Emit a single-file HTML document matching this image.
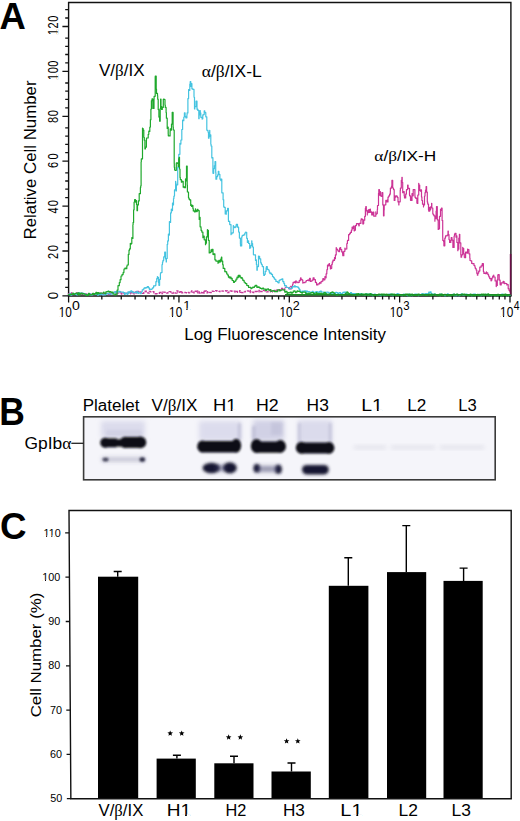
<!DOCTYPE html>
<html><head><meta charset="utf-8"><title>Figure</title>
<style>html,body{margin:0;padding:0;background:#fff;}svg{display:block;}text{font-family:"Liberation Sans",sans-serif;}</style>
</head><body>
<svg width="520" height="821" viewBox="0 0 520 821" font-family="'Liberation Sans', sans-serif" fill="#000">
<text transform="translate(-0.51,28.50) scale(0.9711,1)" font-size="37.53" font-weight="bold">A</text>
<path d="M68.6,295.9 V2.5 H510.9 V295.9" fill="none" stroke="#111" stroke-width="1.4"/>
<path d="M67.89999999999999,295.9 H511.59999999999997" stroke="#111" stroke-width="1.5"/>
<path d="M68.5,293.1H68.5V293.7H69.5V293.5H70.5V292.7H71.7V294.7H73.3V294.3H74.4V293.8H75.5V292.9H76.5V293.0H78.1V294.5H79.7V294.4H80.7V293.2H82.1V294.3H83.7V294.6H84.7V294.0H86.1V293.7H87.2V293.6H88.1V294.7H89.7V293.8H90.9V294.7H92.2V294.6H93.8V293.7H95.0V293.9H96.3V292.9H97.4V294.5H98.4V292.6H99.8V293.2H101.1V293.6H102.3V294.9H103.3V293.5H104.4V294.0H105.5V293.4H107.0V293.3H108.4V294.7H109.3V292.6H110.0V293.7H110.4V294.3H111.8V292.8H113.0V292.6H114.3V292.1H115.7V293.9H117.4V293.3H118.0V292.7H119.0V291.7H120.2V294.1H121.7V293.0H123.3V293.7H124.9V293.2H125.0V293.7H125.9V293.5H126.9V293.2H128.6V292.9H129.5V292.2H130.6V293.8H131.8V292.5H132.7V294.1H134.0V292.1H134.9V291.6H136.0V293.0H137.0V291.4H138.3V291.8H140.0V291.3H140.0V292.2H141.3V292.9H142.5V293.4H143.8V291.7H145.1V291.2H146.3V291.8H147.9V293.2H149.2V291.3H150.3V291.8H151.4V291.8H153.0V291.7H153.9V293.6H155.3V293.8H156.5V293.6H157.9V293.3H159.4V292.7H160.0V292.7H160.4V292.0H162.0V293.6H163.6V292.1H165.0V293.2H166.4V293.1H167.8V292.7H169.2V291.7H170.8V293.3H171.8V293.2H173.5V292.4H174.4V292.9H175.4V293.1H176.9V290.8H177.9V292.1H179.2V292.3H180.0V291.7H180.9V291.0H181.8V292.8H182.7V292.7H183.7V292.5H185.2V292.7H186.6V292.8H187.6V292.3H188.8V292.9H190.3V291.9H191.6V290.9H192.6V292.2H193.9V292.9H195.3V291.2H196.4V292.8H197.8V291.0H199.3V293.0H200.0V292.2H200.3V292.3H201.5V292.8H202.7V291.4H204.0V293.1H204.9V291.0H206.3V292.8H207.6V291.7H209.2V292.4H210.2V292.6H211.2V291.2H212.8V291.4H214.3V290.7H215.9V290.6H217.0V291.3H218.1V291.4H219.7V291.7H220.0V291.2H220.7V290.8H222.0V291.2H223.5V291.2H224.4V290.7H226.0V291.0H227.5V292.6H228.9V291.8H230.3V291.0H231.9V291.4H233.5V291.1H235.1V292.3H236.5V291.5H237.5V292.3H238.7V292.1H239.7V290.7H240.0V291.7H240.8V292.4H241.8V292.6H243.0V291.8H244.2V291.9H245.2V291.3H246.8V290.8H248.2V291.1H249.4V290.3H250.3V292.5H251.9V292.1H253.4V292.5H254.4V291.5H255.7V291.5H257.4V291.9H259.0V290.3H260.0V291.2H260.5V291.6H262.0V291.4H263.5V290.6H265.1V290.8H266.5V291.9H268.0V290.5H269.1V290.5H270.5V292.0H272.1V290.6H273.3V291.5H274.4V290.5H275.0V290.7H275.4V289.9H276.7V290.8H278.1V289.7H279.7V289.9H280.8V288.3H282.4V290.1H284.1V288.8H285.2V287.3H286.3V287.4H288.0V288.6H289.5V286.5H290.3V287.1" fill="none" stroke="#c83a9a" stroke-width="1.3" stroke-dasharray="3 1.3"/>
<path d="M290.3,288.4H290.3V288.9H291.3V286.6H292.4V285.0H292.7V284.1H293.1V282.4H294.3V281.8H295.2V282.9H295.8V280.9H296.2V282.1H297.1V282.2H297.9V282.7H298.2V282.5H299.2V280.7H300.3V278.9H300.6V277.8H301.0V279.4H302.1V280.2H302.8V283.1H303.0V282.5H303.8V282.7H305.0V282.0H306.1V280.9H306.3V280.5H307.5V280.1H308.7V280.7H309.3V279.3H309.5V278.3H310.3V281.3H311.3V281.0H311.7V280.9H312.1V280.1H313.1V277.8H313.3V277.8H314.1V279.7H315.4V282.4H316.5V284.1H316.6V284.9H317.9V283.8H318.7V283.9H319.6V282.5H320.0V283.2H321.0V281.7H321.9V281.2H322.8V279.3H322.9V278.6H323.6V279.8H324.9V276.7H325.2V277.8H326.1V273.8H326.8V271.4H326.9V269.6H327.5V265.1H328.1V266.0H328.8V264.3H329.1V263.5H329.5V265.7H330.4V268.9H330.7V268.3H331.7V264.3H332.3V261.9H333.0V260.1H333.8V260.4H334.5V257.7H334.7V258.7H335.4V254.9H336.2V247.5H336.3V249.2H337.4V249.5H337.8V250.8H338.7V251.6H339.6V248.2H340.2V247.7H340.7V249.6H341.7V251.9H342.6V254.0H342.8V255.7H343.8V251.3H344.9V248.1H345.0V249.2H345.8V249.0H346.8V243.5H347.4V241.3H347.5V240.4H348.6V234.7H349.6V234.4H349.7V233.4H350.4V232.4H351.4V230.1H352.1V227.1H352.3V228.5H353.4V226.0H354.1V230.8H354.5V230.2H355.4V225.6H356.4V224.4H356.5V223.5H357.3V223.5H358.2V224.4H358.8V225.8H359.2V223.3H360.2V223.5H360.9V220.2H361.2V218.8H362.0V219.3H362.8V224.0H363.5V223.5H363.7V220.2H364.7V216.3H365.4V208.2H365.8V206.5H366.3V210.9H367.3V214.9H367.3V212.7H368.1V210.0H368.8V209.6H369.2V212.5H370.1V209.1H370.4V211.2H370.9V212.1H371.7V214.9H372.7V214.2H372.9V212.1H373.8V216.2H374.9V216.2H375.8V211.8H375.8V214.2H376.7V213.5H377.3V209.6H377.5V205.5H378.5V193.3H378.8V189.6H379.4V195.1H380.2V191.5H380.4V195.8H381.5V196.3H381.9V192.7H382.8V204.9H383.5V215.8H384.0V210.3H384.2V205.0H384.9V204.8H385.8V200.4H386.1V201.8H387.1V200.2H387.3V201.9H388.0V197.1H388.7V196.7H388.8V195.8H389.6V194.2H390.3V191.4H390.4V188.1H391.5V186.0H391.9V180.4H392.7V188.0H393.5V189.6H393.7V189.7H394.2V200.4H394.9V196.1H395.8V197.1H395.8V195.8H396.8V196.2H397.3V197.3H398.0V201.9H398.8V205.0H398.9V201.8H400.2V190.4H400.4V188.1H401.3V180.3H401.9V177.3H402.2V182.4H402.7V192.7H403.3V191.6H404.2V195.8H404.5V198.0H405.7V194.1H406.4V190.8H406.5V189.6H407.6V185.2H408.1V188.1H408.5V188.4H409.5V194.7H409.6V195.8H410.5V200.3H411.2V197.2H411.2V200.4H412.0V193.6H412.7V195.8H413.2V189.6H413.9V189.6H414.9V195.6H415.0V197.3H415.8V198.4H416.9V203.0H417.3V203.5H417.8V195.0H418.7V183.3H418.8V185.0H419.7V190.3H420.4V191.2H420.7V189.8H421.5V196.9H421.9V200.4H422.5V204.2H423.5V207.0H423.5V205.0H424.5V196.0H425.0V192.7H425.5V190.1H426.1V186.5H426.6V192.1H427.3V201.9H427.7V204.1H428.5V209.9H428.8V211.2H429.7V207.3H430.0V209.8H430.6V206.8H431.6V203.3H431.8V208.0H432.8V213.8H433.3V214.7H433.9V215.8H434.9V221.2H434.9V218.6H436.1V211.1H436.5V206.5H437.3V219.8H438.2V229.4H438.4V228.8H439.5V216.4H439.8V216.3H440.5V209.3H441.3V210.4H441.4V208.2H442.1V220.4H442.7V237.6H442.8V240.4H443.6V241.4H443.9V245.8H444.8V238.1H445.5V235.9H446.0V235.8H447.2V235.1H448.0V231.0H448.3V234.7H449.0V239.6H449.6V242.5H450.0V242.4H450.8V240.3H451.2V237.6H452.0V240.1H452.9V247.4H452.9V247.5H454.1V236.0H454.5V234.3H454.9V233.3H456.0V237.2H456.1V235.9H456.9V242.5H457.8V250.7H457.9V249.2H458.8V238.0H459.4V234.3H459.8V242.9H460.8V255.1H461.0V257.2H461.6V254.8H462.7V247.4H462.7V248.4H463.7V253.7H464.3V257.2H464.8V257.7H465.6V252.1H466.8V253.1H467.6V249.0H467.8V249.5H468.9V253.8H469.8V258.0H470.0V260.5H470.8V260.8H471.7V263.4H472.5V263.7H472.9V263.5H474.0V265.5H474.9V267.0H475.3V268.5H476.1V270.0H476.8V273.3H477.4V275.2H477.8V273.1H478.7V271.1H479.8V268.6H479.8V267.2H481.1V265.9H482.2V263.8H482.3V263.7H483.4V271.6H483.9V273.5H484.4V273.1H485.6V273.7H486.4V271.9H486.5V272.9H487.8V274.6H488.6V275.6H488.8V276.8H489.7V278.6H491.0V280.8H491.3V280.1H491.9V278.0H492.7V276.2H493.7V275.2H493.8V277.0H495.1V280.9H496.2V286.6H496.3V285.4H497.3V279.7H497.8V275.2H498.0V274.7H499.2V280.2H500.1V284.5H500.3V285.0H501.2V282.8H502.1V282.9H503.1V281.3H503.5V281.7H504.2V283.6H505.1V283.4H505.9V283.5H506.8V285.0H507.0V284.5H508.2V288.7H509.0V290.3H509.9V291.8H510.0V291.5" fill="none" stroke="#cc3496" stroke-width="1.2" stroke-linejoin="round"/>
<path d="M510.59999999999997,294.9V254" stroke="#6a1048" stroke-width="1.6"/>
<path d="M68.5,295.5H68.5V294.5H69.8V293.4H70.5V295.1H71.7V294.6H72.5V294.4H73.6V294.2H74.4V293.8H75.3V294.4H76.6V294.8H77.7V293.6H78.5V292.6H79.2V293.5H80.0V293.5H80.1V293.2H81.4V293.6H82.4V293.1H83.1V293.3H83.9V293.8H85.2V294.2H86.0V294.8H87.2V294.5H88.4V294.6H89.6V293.8H90.9V295.2H91.7V294.8H92.8V294.3H93.8V294.4H95.0V294.5H95.1V294.5H96.3V294.1H97.5V295.2H98.5V294.4H99.8V294.7H100.7V293.5H101.6V294.5H102.4V294.9H103.3V294.9H104.2V294.9H105.3V293.8H106.3V294.1H107.4V293.3H108.2V293.6H109.5V293.8H110.0V293.5H110.2V294.2H111.3V294.1H112.2V293.6H112.9V293.3H113.8V292.2H115.0V291.7H116.0V293.2H116.8V291.6H118.0V292.0H118.1V291.8H119.2V291.3H120.1V291.9H121.2V292.0H122.5V292.2H123.6V292.6H124.5V294.5H125.0V294.0H125.3V293.2H126.4V293.3H127.1V294.3H127.9V291.9H128.8V292.9H130.0V291.4H130.9V290.9H131.8V292.1H132.0V291.5H133.0V292.6H134.1V292.7H135.2V292.0H136.1V292.6H137.0V291.6H137.9V293.4H138.7V292.9H139.7V293.0H140.0V293.0H140.4V293.6H141.3V292.0H142.2V289.8H143.3V289.1H144.0V288.1H144.8V287.5H145.0V288.2H145.9V287.6H147.2V287.7H147.2V286.7H148.5V287.8H149.4V289.6H149.4V289.0H150.5V289.3H151.7V289.0H152.3V288.2H152.5V287.8H153.6V285.9H154.3V286.0H155.0V286.0H155.2V285.3H155.9V281.7H156.7V278.7H157.4V276.5H157.5V277.3H158.5V282.6H158.9V285.3H159.6V279.3H160.4V273.6H160.8V272.5H162.0V264.6H162.5V261.9H163.0V260.3H163.7V256.8H164.7V253.1H164.7V252.0H165.5V258.8H166.2V261.9H166.4V258.5H167.2V244.3H167.7V240.9H168.4V234.1H168.5V235.1H169.4V221.5H169.6V222.4H170.6V212.9H171.3V209.2H171.4V210.6H172.5V203.0H172.8V204.9H173.5V198.6H173.9V196.1H174.5V189.9H175.6V181.3H175.7V182.9H176.0V190.9H176.4V184.8H177.7V167.3H177.9V167.5H178.8V154.3H179.9V143.4H179.9V144.1H180.9V140.0H181.8V132.4H181.8V129.5H182.6V120.1H182.8V120.7H183.8V117.0H184.4V112.9H185.1V116.4H185.7V116.8H185.8V117.8H186.9V115.1H187.1V112.9H187.9V98.6H188.6V89.5H188.9V90.4H189.8V84.0H190.2V81.7H190.8V86.3H191.6V83.6H191.9V88.8H192.9V89.5H193.2V89.4H194.0V96.5H194.1V97.3H194.5V109.0H194.8V106.6H196.0V104.8H196.0V101.2H197.0V109.3H197.4V109.0H197.8V110.4H198.8V118.7H199.1V115.0H200.0V110.6H200.3V112.9H200.8V117.3H202.1V119.1H202.3V118.7H202.8V114.9H203.7V114.4H204.2V110.9H204.8V112.6H205.8V113.8H205.8V116.8H206.8V130.1H207.2V130.4H208.0V132.1H208.5V138.2H209.0V136.6H209.7V130.4H209.8V134.9H210.8V144.3H211.1V146.0H211.8V157.9H212.0V157.7H212.9V172.6H213.0V173.3H213.7V168.7H214.4V165.6H215.0V161.6H215.7V172.5H215.9V179.2H216.7V176.6H217.6V174.9H218.3V171.3H218.9V174.4H219.9V179.1H220.8V180.6H220.8V179.2H221.8V190.9H221.8V192.8H223.1V199.7H223.7V206.5H224.1V207.4H225.2V214.0H226.1V214.2H226.3V210.8H227.3V210.7H227.6V208.4H228.4V220.0H228.5V221.4H229.7V224.6H231.0V234.7H231.0V233.8H232.0V232.8H233.3V225.6H233.5V226.9H234.5V227.6H235.3V226.9H236.1V225.2H236.3V224.3H237.5V227.2H238.6V231.5H238.7V232.1H239.4V238.1H240.4V244.1H240.5V246.0H241.7V236.8H242.2V235.6H242.4V235.3H243.6V234.9H244.8V233.0H245.7V232.1H245.9V232.3H246.7V238.3H247.4V242.5H247.4V240.8H248.6V243.5H249.7V248.3H250.0V247.7H250.7V245.7H251.7V240.8H251.9V243.6H252.6V247.0H253.4V254.6H253.6V254.8H254.4V254.9H255.5V260.4H256.0V259.8H256.4V264.5H256.9V270.2H257.3V266.6H258.5V256.1H258.6V256.3H259.6V258.8H260.7V262.8H261.4V264.3H262.1V265.0H262.3V266.6H263.5V273.8H263.8V275.4H264.4V274.3H265.2V271.3H266.1V267.8H266.4V266.7H267.3V269.4H268.4V270.0H269.2V272.1H269.9V273.6H270.1V273.2H271.3V274.3H272.5V276.5H273.4V277.4H274.2V278.7H274.2V278.8H275.0V279.5H275.9V281.4H277.1V281.6H277.7V282.3H278.2V282.8H279.1V280.3H279.9V279.8H281.0V279.3H282.0V279.5H282.0V278.8H282.8V281.6H283.9V283.6H284.6V285.7H285.1V285.6H286.3V287.5H287.3V287.5H288.6V288.2H289.7V289.1H289.8V288.3H291.0V288.3H292.3V286.6H293.3V286.9H294.3V285.8H295.0V285.7H295.1V286.8H296.0V286.6H297.2V287.1H298.5V288.2H299.2V289.4H300.0V290.5H300.1V291.4H301.4V291.3H302.3V291.1H303.2V291.9H304.1V290.8H305.2V290.8H306.1V292.7H306.8V291.1H307.6V291.5H308.6V291.7H309.5V291.8H310.0V292.5H310.3V292.7H311.2V292.1H312.4V291.3H313.2V293.0H314.2V292.7H314.9V292.1H316.1V291.5H317.3V292.0H318.2V292.8H319.2V291.5H320.0V291.5H320.2V291.1H321.4V292.0H322.5V292.1H323.8V293.3H325.0V292.4H325.9V292.7H326.7V292.0H328.0V292.3H329.2V293.7H330.0V293.5H330.5V292.6H331.4V294.1H332.1V292.6H333.0V292.7H333.8V293.7H334.5V294.4H335.6V292.3H336.9V292.7H337.8V293.4H338.6V293.2H339.4V292.5H340.6V293.9H341.6V293.5H342.8V292.3H343.8V292.2H344.6V292.2H345.0V293.0H345.4V292.1H346.3V292.9H347.3V294.0H348.6V293.8H349.6V294.4H350.4V292.7H351.6V293.9H352.4V293.5H353.3V293.7H354.2V293.7H355.4V294.7H356.5V294.1H357.3V294.8H358.6V293.8H359.7V294.9H360.0V294.5H360.8V293.5H361.9V293.9H362.7V294.7H363.8V294.8H364.9V295.0H365.9V293.6H367.1V295.3H368.3V294.8H369.0V293.9H369.8V294.9H370.8V293.9H372.1V295.6H373.3V294.5H374.2V294.0H375.4V295.1H376.2V295.5H377.3V294.5H378.2V295.1H379.2V295.0H380.0V295.1H380.8V295.6H381.7V294.3H382.7V294.5H383.7V295.6H384.5V295.3H385.6V295.3H386.6V294.6H387.5V294.7H388.4V294.1H389.3V294.1H390.3V294.9H391.2V294.0H392.3V295.6H393.1V295.0H394.2V295.6H395.3V294.4H396.1V295.5H397.0V293.7H398.2V294.2H399.1V294.4H400.0V295.3H400.9V294.7H401.8V295.6H402.6V295.0H403.3V294.1H404.4V294.6H405.1V295.1H406.4V295.2H407.4V295.6H408.6V294.1H409.5V295.6H410.8V294.3H411.9V295.6H412.9V295.4H414.0V294.4H414.8V294.0H415.9V294.2H417.0V294.7H417.9V295.6H418.9V294.9H419.8V294.4H420.0V295.0H420.6V294.9H421.8V293.6H423.1V294.6H423.8V294.5H424.7V293.8H425.5V293.6H426.5V294.0H427.6V293.6H428.7V292.2H429.4V292.6H430.0V292.5H430.2V291.9H431.1V293.5H432.2V294.6H433.0V295.0H433.4V294.1H434.5V294.1H435.6V294.9H436.3V294.6H437.4V294.9H438.7V294.7H439.6V295.6H440.7V294.1H441.9V294.7H443.1V295.3H444.3V295.6H445.3V295.6H446.0V294.6H447.2V293.9H448.3V295.6H449.5V295.6H450.2V295.1H451.3V294.9H452.2V295.6H453.0V294.0H454.1V295.6H455.3V295.4H456.1V295.6H456.9V294.4H458.0V295.6H459.0V295.6H459.8V295.2H460.5V294.4H461.3V293.9H462.3V295.0H463.1V295.3H463.9V295.0H464.9V294.8H466.1V294.2H467.1V294.9H468.0V295.6H469.0V295.0H470.0V294.9H471.3V295.6H472.4V294.3H473.4V294.2H474.3V294.0H475.5V295.6H476.5V295.2H477.4V294.9H478.4V294.8H479.2V294.4H480.4V295.6H481.6V295.3H482.3V294.6H483.5V295.6H484.5V295.2H485.6V294.4H486.8V294.7H488.0V294.9H489.1V295.1H490.1V294.9H491.4V295.6H492.3V295.0H493.5V295.5H494.6V295.6H495.4V295.2H496.5V294.9H497.8V295.6H498.7V295.3H499.9V295.4H500.8V295.6H501.7V294.2H502.8V295.3H503.7V295.0H505.0V295.6H506.0V295.6H507.0V294.8H508.1V295.6H509.3V295.4H510.0V295.0" fill="none" stroke="#45c3e0" stroke-width="1.2" stroke-linejoin="round"/>
<path d="M68.5,293.7H68.5V294.5H69.7V294.9H70.6V294.2H71.5V294.4H72.7V293.0H73.4V294.5H74.4V294.2H75.0V293.5H75.1V293.4H76.2V293.0H77.5V294.6H78.2V292.8H79.2V294.9H80.2V293.4H81.1V293.1H81.9V294.1H82.9V293.7H83.8V293.8H84.8V294.0H85.0V294.5H85.5V295.2H86.5V294.7H87.3V295.4H88.5V293.3H89.4V294.5H90.6V294.9H91.5V294.6H92.6V293.3H93.7V294.5H94.9V293.5H95.0V293.5H95.9V292.4H96.8V294.1H97.7V292.6H98.7V293.7H99.9V293.0H100.8V293.2H102.0V293.2H102.9V293.0H103.6V292.0H104.0V293.0H104.8V293.7H105.8V291.9H106.6V291.7H107.9V291.6H108.0V291.0H108.9V292.1H109.8V291.7H111.0V292.3H112.0V292.5H112.0V292.0H113.0V294.1H113.7V294.0H114.9V294.9H115.8V294.5H116.1V294.2H117.1V290.2H118.0V285.7H119.3V282.6H120.1V279.7H121.0V276.5H121.1V276.0H122.0V274.6H123.1V272.6H123.9V270.6H124.0V269.0H124.9V268.2H125.9V268.7H126.8V266.3H127.1V265.0H128.3V254.4H129.0V250.2H129.5V248.9H130.3V243.3H130.5V244.3H131.0V243.6H131.8V237.5H132.0V238.5H132.9V224.8H133.1V222.4H133.6V209.8H134.1V202.0H134.6V199.7H135.5V202.1H136.0V200.5H136.5V204.4H137.0V210.7H137.5V205.0H138.4V200.9H139.2V196.0H139.2V193.7H140.4V187.6H140.7V185.8H141.1V162.1H141.3V158.9H142.5V128.0H142.6V128.5H143.2V130.1H143.8V137.3H144.3V140.2H144.9V149.0H145.4V147.2H146.4V140.2H146.5V138.0H147.7V138.0H148.2V134.3H148.8V131.1H149.6V131.4H149.8V127.1H150.4V119.7H150.9V109.1H151.4V100.7H152.0V98.9H152.8V105.0H152.8V108.5H154.0V99.2H154.1V96.3H155.2V76.6H155.3V76.0H156.2V89.0H156.5V93.4H157.5V95.8H157.7V99.2H158.2V109.6H158.4V109.5H158.9V117.1H159.6V121.2H160.2V108.5H160.6V99.2H161.0V106.3H161.6V109.5H162.3V107.4H163.3V99.3H163.5V99.2H164.2V99.5H165.0V105.0H165.3V107.4H166.1V112.5H166.4V118.2H167.2V128.5H167.2V127.1H168.2V134.0H168.3V135.8H169.4V136.0H170.1V131.4H170.2V128.9H171.1V130.1H171.5V124.1H172.2V112.3H172.3V112.4H173.1V126.9H173.3V130.0H174.2V163.6H174.3V167.3H174.6V170.0H175.2V170.3H176.3V163.2H176.4V162.8H177.6V163.4H178.2V166.5H178.7V158.6H179.1V157.3H179.5V169.0H180.0V177.4H180.3V179.7H181.4V182.2H181.9V181.0H182.3V181.3H183.2V187.2H183.7V186.6H184.2V187.7H185.5V178.8H185.5V181.0H186.5V168.3H186.5V166.0H187.2V185.0H187.4V192.0H188.5V198.0H189.2V199.4H189.7V199.9H190.7V205.5H191.0V204.8H191.6V206.4H192.5V205.4H192.9V208.5H193.3V210.9H194.4V211.8H195.4V208.9H195.6V210.3H196.5V211.6H197.2V210.4H197.4V209.4H198.0V210.7H199.2V219.5H199.2V217.3H200.1V226.8H201.0V228.1H201.1V230.4H201.8V232.1H202.9V237.7H203.0V236.1H204.2V239.8H205.5V244.7H205.6V243.2H206.4V236.9H207.4V229.5H207.5V230.4H208.4V240.3H209.2V252.9H209.3V252.9H210.0V252.3H211.0V249.9H211.7V251.3H211.9V249.4H213.0V254.4H213.7V254.6H213.8V253.8H214.9V259.8H215.4V259.8H215.9V261.1H217.0V261.1H218.0V263.3H218.0V262.7H218.9V260.4H219.7V261.9H220.7V259.0H221.4V257.2H221.8V261.1H222.7V264.7H223.2V268.4H223.6V268.4H224.8V271.7H225.7V271.3H225.8V271.9H226.7V274.0H227.8V275.2H228.4V277.1H228.5V276.5H229.2V277.8H230.0V277.1H231.0V278.8H231.1V278.4H232.2V280.5H233.5V281.5H233.5V282.3H234.5V281.5H235.2V280.8H236.0V279.2H237.0V277.1H237.3V277.7H238.2V275.3H239.2V276.8H239.6V275.4H240.1V277.0H240.9V278.1H241.6V277.5H242.2V278.8H242.8V280.3H244.1V282.1H244.8V282.3H245.2V283.3H246.0V283.7H246.8V285.4H247.4V285.7H247.9V285.5H248.6V287.5H249.8V287.3H250.9V288.6H251.7V288.3H251.8V288.0H252.7V287.0H253.4V287.3H254.4V286.5H255.1V285.4H255.2V285.7H255.9V285.3H256.8V287.3H257.7V286.8H258.6V287.5H258.8V287.0H259.5V287.9H260.5V288.4H261.4V288.8H262.6V288.2H263.6V289.1H263.8V289.2H264.4V289.1H265.5V290.4H266.7V289.2H267.8V288.9H268.5V290.0H269.0V290.1H269.8V289.5H270.9V291.3H271.8V291.0H273.0V290.5H274.1V291.5H274.2V291.0H275.2V291.7H276.4V291.7H277.5V289.9H278.3V289.8H279.4V290.9H280.1V290.6H281.1V290.1H281.2V289.8H282.2V289.8H283.4V289.9H284.7V292.1H285.7V291.3H287.0V293.3H287.8V293.2H288.0V292.7H289.0V292.9H290.1V292.2H291.4V293.2H292.3V292.6H293.2V291.1H294.1V290.8H295.0V291.5H295.4V292.6H296.2V291.9H297.1V290.9H298.0V291.3H299.1V291.0H299.9V292.0H300.7V292.5H301.7V293.1H302.5V292.0H303.6V292.1H304.6V292.2H305.7V293.6H306.9V294.1H307.9V293.2H309.2V294.0H310.0V293.5H310.2V293.2H311.1V292.6H312.3V292.7H313.4V293.6H314.7V294.1H316.0V292.7H317.0V293.7H317.9V293.5H318.8V293.6H319.5V293.4H320.4V293.1H321.4V294.1H322.5V293.5H323.6V293.2H324.4V292.4H325.3V293.7H326.5V294.2H327.5V294.6H328.5V294.2H329.4V294.0H330.0V293.5H330.7V292.5H331.5V292.5H332.0V291.8H332.5V292.0H333.2V292.7H334.2V293.6H335.0V294.5H335.4V294.7H336.5V295.3H337.7V294.3H338.8V294.6H339.9V294.5H340.9V294.5H342.0V295.1H343.1V294.9H344.3V294.7H345.0V294.0H345.4V293.3H346.2V293.1H347.0V291.8H347.4V292.3H348.2V293.6H349.2V293.7H349.9V294.5H350.0V294.5H351.1V294.3H352.0V294.9H352.7V294.5H354.0V295.0H354.9V295.0H356.0V293.9H356.8V295.4H357.7V293.6H358.9V294.6H359.8V294.6H360.9V293.9H362.0V295.1H363.2V294.1H364.3V294.1H365.3V293.9H366.5V295.5H367.4V294.1H368.7V295.1H369.9V293.7H371.1V295.0H372.0V294.6H373.2V295.4H374.0V295.0H374.8V295.6H375.7V295.6H376.9V295.0H377.7V294.8H378.5V294.0H379.6V294.5H380.8V294.2H381.9V295.3H382.8V294.0H383.8V294.8H384.5V294.2H385.2V295.1H386.5V294.2H387.2V295.3H388.4V295.6H389.5V294.5H390.7V294.1H391.8V294.0H392.7V294.9H393.6V294.2H394.5V295.6H395.5V295.1H396.3V295.4H397.2V295.2H398.4V295.6H399.2V295.6H400.0V295.0H400.4V294.6H401.3V295.2H402.6V294.8H403.8V295.6H404.6V295.6H405.3V294.2H406.4V294.0H407.3V294.2H408.3V295.6H409.5V294.0H410.3V295.6H411.0V294.5H411.8V294.1H412.5V295.3H413.6V295.4H414.8V295.4H415.8V295.3H417.0V295.3H417.9V294.0H419.2V295.2H420.1V295.2H421.1V295.0H421.8V294.7H422.8V294.3H424.0V294.8H425.1V295.5H426.3V295.5H427.4V294.5H428.7V294.2H429.9V295.6H431.2V294.0H431.9V295.6H432.9V294.7H434.2V294.0H435.2V294.9H436.0V294.8H437.1V295.6H437.8V295.1H438.6V295.6H439.3V294.0H440.3V295.5H441.1V294.2H442.3V295.6H443.5V294.6H444.5V294.4H445.5V294.6H446.4V295.6H447.7V295.2H448.5V295.3H449.4V295.6H450.6V295.6H451.7V295.1H452.9V295.6H453.8V294.2H454.7V295.0H455.5V294.7H456.5V294.0H457.7V295.3H458.6V294.6H459.5V294.6H460.7V295.0H461.7V294.2H462.9V294.6H463.8V294.1H465.1V295.0H466.4V295.6H467.6V295.6H468.9V295.6H470.1V294.2H471.1V295.2H472.4V295.6H473.5V295.5H474.4V295.6H475.5V294.8H476.5V295.6H477.5V294.3H478.3V295.4H479.3V295.6H480.1V294.8H481.3V294.0H482.0V295.1H482.9V294.1H483.8V295.3H484.8V294.1H485.5V295.6H486.6V294.3H487.8V293.9H488.7V295.6H489.9V294.5H491.1V295.2H492.3V295.6H493.3V295.4H494.3V295.6H495.5V295.5H496.7V295.6H497.5V294.3H498.7V295.6H499.7V295.0H500.6V295.6H501.8V295.2H502.5V295.6H503.5V294.3H504.4V295.4H505.1V294.2H506.0V295.6H507.1V295.6H508.1V295.2H509.2V295.1H510.0V295.0" fill="none" stroke="#1fa82c" stroke-width="1.2" stroke-linejoin="round"/>
<path d="M285,294.79999999999995H510.4" stroke="#1a8f26" stroke-width="1.4"/>
<path d="M62.39999999999999,295.90H68.6M62.39999999999999,251.00H68.6M65.19999999999999,262.60H68.6M65.19999999999999,270.80H68.6M65.19999999999999,279.00H68.6M65.19999999999999,287.40H68.6M62.39999999999999,206.10H68.6M65.19999999999999,217.70H68.6M65.19999999999999,225.90H68.6M65.19999999999999,234.10H68.6M65.19999999999999,242.50H68.6M62.39999999999999,161.20H68.6M65.19999999999999,172.80H68.6M65.19999999999999,181.00H68.6M65.19999999999999,189.20H68.6M65.19999999999999,197.60H68.6M62.39999999999999,116.30H68.6M65.19999999999999,127.90H68.6M65.19999999999999,136.10H68.6M65.19999999999999,144.30H68.6M65.19999999999999,152.70H68.6M62.39999999999999,71.40H68.6M65.19999999999999,83.00H68.6M65.19999999999999,91.20H68.6M65.19999999999999,99.40H68.6M65.19999999999999,107.80H68.6M62.39999999999999,26.50H68.6M65.19999999999999,38.10H68.6M65.19999999999999,46.30H68.6M65.19999999999999,54.50H68.6M65.19999999999999,62.90H68.6M65.19999999999999,9.60H68.6M65.19999999999999,18.00H68.6" stroke="#111" stroke-width="1.3"/>
<path d="M68.60,295.9V302.4M101.82,295.9V299.5M121.25,295.9V299.5M135.04,295.9V299.5M145.73,295.9V299.5M154.47,295.9V299.5M161.86,295.9V299.5M168.26,295.9V299.5M173.90,295.9V299.5M178.95,295.9V302.4M212.17,295.9V299.5M231.60,295.9V299.5M245.39,295.9V299.5M256.08,295.9V299.5M264.82,295.9V299.5M272.21,295.9V299.5M278.61,295.9V299.5M284.25,295.9V299.5M289.30,295.9V302.4M322.52,295.9V299.5M341.95,295.9V299.5M355.74,295.9V299.5M366.43,295.9V299.5M375.17,295.9V299.5M382.56,295.9V299.5M388.96,295.9V299.5M394.60,295.9V299.5M399.65,295.9V302.4M432.87,295.9V299.5M452.30,295.9V299.5M466.09,295.9V299.5M476.78,295.9V299.5M485.52,295.9V299.5M492.91,295.9V299.5M499.31,295.9V299.5M504.95,295.9V299.5M510.00,295.9V302.4" stroke="#111" stroke-width="1.3"/>
<text transform="translate(57.90,299.15) rotate(-90) scale(0.9671,1)" font-size="13.71" font-weight="normal">0</text>
<text transform="translate(57.90,258.90) rotate(-90) scale(0.8000,1)" font-size="13.71" font-weight="normal" letter-spacing="2.068">20</text>
<text transform="translate(57.90,213.52) rotate(-90) scale(0.8000,1)" font-size="13.71" font-weight="normal" letter-spacing="1.475">40</text>
<text transform="translate(57.90,168.10) rotate(-90) scale(0.8000,1)" font-size="13.71" font-weight="normal" letter-spacing="3.068">60</text>
<text transform="translate(57.90,123.11) rotate(-90) scale(0.8000,1)" font-size="13.71" font-weight="normal" letter-spacing="1.021">80</text>
<text transform="translate(57.90,79.90) rotate(-90) scale(0.8000,1)" font-size="13.71" font-weight="normal" letter-spacing="0.605">100</text><g transform="translate(57.90,79.90) rotate(-90) scale(0.8000,1)" fill="#fff"><rect x="0.48" y="-1.23" width="2.88" height="1.92"/><rect x="4.64" y="-1.23" width="2.81" height="1.92"/></g>
<text transform="translate(57.90,35.10) rotate(-90) scale(0.8000,1)" font-size="13.71" font-weight="normal" letter-spacing="0.730">120</text><g transform="translate(57.90,35.10) rotate(-90) scale(0.8000,1)" fill="#fff"><rect x="0.48" y="-1.23" width="2.88" height="1.92"/><rect x="4.64" y="-1.23" width="2.81" height="1.92"/></g>
<text transform="translate(58.72,317.20) scale(0.8512,1)" font-size="13.86" font-weight="normal">10</text><g transform="translate(58.72,317.20) scale(0.8512,1)" fill="#fff"><rect x="0.48" y="-1.25" width="2.91" height="1.94"/><rect x="4.68" y="-1.25" width="2.84" height="1.94"/></g>
<text transform="translate(72.07,309.60) scale(1.0617,1)" font-size="13.29" font-weight="normal">0</text>
<text transform="translate(169.07,317.20) scale(0.8512,1)" font-size="13.86" font-weight="normal">10</text><g transform="translate(169.07,317.20) scale(0.8512,1)" fill="#fff"><rect x="0.48" y="-1.25" width="2.91" height="1.94"/><rect x="4.68" y="-1.25" width="2.84" height="1.94"/></g>
<text transform="translate(183.14,309.60) scale(0.9649,1)" font-size="13.53" font-weight="normal">1</text><g transform="translate(183.14,309.60) scale(0.9649,1)" fill="#fff"><rect x="0.47" y="-1.22" width="2.84" height="1.89"/><rect x="4.57" y="-1.22" width="2.77" height="1.89"/></g>
<text transform="translate(279.42,317.20) scale(0.8512,1)" font-size="13.86" font-weight="normal">10</text><g transform="translate(279.42,317.20) scale(0.8512,1)" fill="#fff"><rect x="0.48" y="-1.25" width="2.91" height="1.94"/><rect x="4.68" y="-1.25" width="2.84" height="1.94"/></g>
<text transform="translate(292.67,309.60) scale(0.9439,1)" font-size="13.29" font-weight="normal">2</text>
<text transform="translate(389.77,317.20) scale(0.8512,1)" font-size="13.86" font-weight="normal">10</text><g transform="translate(389.77,317.20) scale(0.8512,1)" fill="#fff"><rect x="0.48" y="-1.25" width="2.91" height="1.94"/><rect x="4.68" y="-1.25" width="2.84" height="1.94"/></g>
<text transform="translate(403.22,309.60) scale(0.8557,1)" font-size="13.29" font-weight="normal">3</text>
<text transform="translate(500.12,317.20) scale(0.8512,1)" font-size="13.86" font-weight="normal">10</text><g transform="translate(500.12,317.20) scale(0.8512,1)" fill="#fff"><rect x="0.48" y="-1.25" width="2.91" height="1.94"/><rect x="4.68" y="-1.25" width="2.84" height="1.94"/></g>
<text transform="translate(513.74,309.60) scale(0.7688,1)" font-size="13.53" font-weight="normal">4</text>
<text transform="translate(184.32,339.60) scale(1.0548,1)" font-size="16.00" font-weight="normal">Log Fluorescence Intensity</text>
<text transform="translate(35.80,239.47) rotate(-90) scale(1.0794,1)" font-size="15.59" font-weight="normal">Relative Cell Number</text>
<text transform="translate(98.99,75.50) scale(1.0572,1)" font-size="16.14" font-weight="normal">V/<tspan font-family="Liberation Serif">β</tspan>/IX</text>
<text transform="translate(201.74,76.80) scale(1.1163,1)" font-size="15.72" font-weight="normal"><tspan font-family="Liberation Serif">α</tspan>/<tspan font-family="Liberation Serif">β</tspan>/IX-L</text>
<text transform="translate(374.35,160.80) scale(1.1591,1)" font-size="14.90" font-weight="normal"><tspan font-family="Liberation Serif">α</tspan>/<tspan font-family="Liberation Serif">β</tspan>/IX-H</text>
<text transform="translate(-0.81,424.60) scale(0.9191,1)" font-size="38.55" font-weight="bold">B</text>
<rect x="83.6" y="416.8" width="411.6" height="63" fill="#f5f5fa"/>
<defs>
<filter id="b06" x="-30%" y="-60%" width="160%" height="220%"><feGaussianBlur stdDeviation="0.8"/></filter>
<filter id="b1" x="-30%" y="-60%" width="160%" height="220%"><feGaussianBlur stdDeviation="1.2"/></filter>
<filter id="b15" x="-30%" y="-60%" width="160%" height="220%"><feGaussianBlur stdDeviation="1.6"/></filter>
<filter id="b2" x="-30%" y="-60%" width="160%" height="220%"><feGaussianBlur stdDeviation="2.0"/></filter>
<filter id="b3" x="-30%" y="-60%" width="160%" height="220%"><feGaussianBlur stdDeviation="2.6"/></filter>
</defs>
<g filter="url(#b3)"><rect x="101" y="421" width="44" height="17" fill="#d3d3e7" opacity="0.75"/><rect x="199" y="421" width="42" height="20" fill="#d6d6ea" opacity="0.8"/><rect x="253" y="420" width="31" height="21" fill="#cdcde3" opacity="0.9"/><rect x="298" y="420" width="34" height="23" fill="#d5d5e9" opacity="0.8"/></g>
<g filter="url(#b15)" fill="#9a9abb" opacity="0.45"><rect x="238" y="423" width="3" height="17"/><rect x="252" y="426" width="3.5" height="14"/><rect x="271" y="422" width="12" height="13" opacity="0.45"/><rect x="298" y="423" width="2.5" height="20"/><rect x="329" y="423" width="2.5" height="20"/><rect x="106" y="430" width="36" height="7" opacity="0.35"/></g>
<g filter="url(#b1)" fill="#0b0b16"><rect x="104.2" y="438.3" width="12.5" height="9.0"/><ellipse cx="105.2" cy="442.8" rx="5.0" ry="5.0"/><ellipse cx="116.0" cy="442.8" rx="3.5" ry="3.7"/><rect x="116.5" y="439.2" width="6" height="7.6" rx="2.5"/><rect x="124.0" y="436.9" width="17.5" height="11.0"/><ellipse cx="125.0" cy="442.4" rx="5.0" ry="5.7"/><ellipse cx="140.3" cy="442.4" rx="6.0" ry="5.9"/><rect x="199" y="441.0" width="40" height="11.6" rx="3"/><ellipse cx="202.6" cy="446.4" rx="5.4" ry="5.9"/><ellipse cx="236.2" cy="445.6" rx="5.0" ry="6.9"/><rect x="254" y="441.6" width="29" height="11.2" rx="3"/><ellipse cx="256.6" cy="446.0" rx="5.8" ry="6.9"/><ellipse cx="280.4" cy="446.4" rx="5.6" ry="6.3"/><rect x="299" y="442.4" width="33" height="11.2" rx="3"/><ellipse cx="301.4" cy="447.8" rx="5.6" ry="6.0"/><ellipse cx="329.2" cy="447.9" rx="5.2" ry="5.8"/></g>
<g filter="url(#b15)" fill="#181830"><ellipse cx="211.3" cy="468" rx="8.8" ry="5.2"/><ellipse cx="229.8" cy="467.9" rx="7.0" ry="5.6"/><rect x="302" y="465" width="26.8" height="9.4" rx="4.6"/><ellipse cx="256.8" cy="468.3" rx="3.3" ry="4.3"/><ellipse cx="278.4" cy="469.2" rx="3.4" ry="4.5"/></g>
<g filter="url(#b2)" fill="#40406a"><rect x="216" y="465" width="9" height="6" opacity="0.55"/><rect x="256" y="466" width="23" height="6" opacity="0.55"/><rect x="102" y="457.4" width="43" height="4.0" opacity="0.3"/></g>
<g filter="url(#b1)" fill="#26263e"><ellipse cx="105.5" cy="459.6" rx="3" ry="2" opacity="0.8"/><ellipse cx="142.3" cy="459.5" rx="2.8" ry="2.3" opacity="0.95"/></g>
<g filter="url(#b2)" fill="#bdbdcc" opacity="0.38"><rect x="354" y="445.8" width="32" height="3.2"/><rect x="391" y="445.8" width="44" height="3.2"/><rect x="440" y="445.8" width="44" height="3.2"/></g>
<rect x="83.6" y="416.8" width="411.6" height="63" fill="none" stroke="#3a3a3a" stroke-width="1.6"/>
<path d="M71.3,443.3H83.6" stroke="#222" stroke-width="1.3"/>
<text transform="translate(24.53,448.70) scale(1.0881,1)" font-size="16.00" font-weight="normal">GpIb<tspan font-family="Liberation Serif">α</tspan></text>
<text transform="translate(82.71,410.60) scale(1.0618,1)" font-size="16.00" font-weight="normal">Platelet</text>
<text transform="translate(151.49,410.60) scale(1.0711,1)" font-size="16.00" font-weight="normal">V/<tspan font-family="Liberation Serif">β</tspan>/IX</text>
<text transform="translate(212.99,410.60) scale(1.1474,1)" font-size="16.00" font-weight="normal">H1</text><g transform="translate(212.99,410.60) scale(1.1474,1)" fill="#fff"><rect x="12.11" y="-1.44" width="3.36" height="2.24"/><rect x="16.96" y="-1.44" width="3.28" height="2.24"/></g>
<text transform="translate(255.95,410.60) scale(1.1099,1)" font-size="16.00" font-weight="normal">H2</text>
<text transform="translate(306.58,410.60) scale(1.0870,1)" font-size="16.00" font-weight="normal">H3</text>
<text transform="translate(361.30,410.60) scale(1.2154,1)" font-size="16.00" font-weight="normal">L1</text><g transform="translate(361.30,410.60) scale(1.2154,1)" fill="#fff"><rect x="9.45" y="-1.44" width="3.36" height="2.24"/><rect x="14.30" y="-1.44" width="3.28" height="2.24"/></g>
<text transform="translate(407.30,410.60) scale(1.0705,1)" font-size="16.00" font-weight="normal">L2</text>
<text transform="translate(458.15,410.60) scale(1.0385,1)" font-size="16.00" font-weight="normal">L3</text>
<text transform="translate(0.12,538.80) scale(0.9831,1)" font-size="37.40" font-weight="bold">C</text>
<rect x="98.00" y="576.7" width="40.20" height="222.00" fill="#000"/>
<path d="M117.70,576.7V571.5M113.70,571.5H121.70" stroke="#000" stroke-width="1.4"/>
<rect x="156.60" y="758.6" width="39.20" height="40.10" fill="#000"/>
<path d="M176.90,758.6V755.2M172.90,755.2H180.90" stroke="#000" stroke-width="1.4"/>
<rect x="214.30" y="763.3" width="39.20" height="35.40" fill="#000"/>
<path d="M234.00,763.3V756.2M230.00,756.2H238.00" stroke="#000" stroke-width="1.4"/>
<rect x="271.50" y="771.5" width="39.30" height="27.20" fill="#000"/>
<path d="M291.50,771.5V763.0M287.50,763.0H295.50" stroke="#000" stroke-width="1.4"/>
<rect x="328.80" y="585.8" width="39.60" height="212.90" fill="#000"/>
<path d="M348.30,585.8V557.8M344.30,557.8H352.30" stroke="#000" stroke-width="1.4"/>
<rect x="387.00" y="572.1" width="39.20" height="226.60" fill="#000"/>
<path d="M406.30,572.1V525.6M402.30,525.6H410.30" stroke="#000" stroke-width="1.4"/>
<rect x="443.50" y="580.9" width="39.20" height="217.80" fill="#000"/>
<path d="M463.60,580.9V568.1M459.60,568.1H467.60" stroke="#000" stroke-width="1.4"/>
<text transform="translate(98.49,815.60) scale(1.0474,1)" font-size="16.00" font-weight="normal">V/<tspan font-family="Liberation Serif">β</tspan>/IX</text>
<text transform="translate(166.63,815.60) scale(1.1923,1)" font-size="16.00" font-weight="normal">H1</text><g transform="translate(166.63,815.60) scale(1.1923,1)" fill="#fff"><rect x="12.11" y="-1.44" width="3.36" height="2.24"/><rect x="16.96" y="-1.44" width="3.28" height="2.24"/></g>
<text transform="translate(225.57,815.60) scale(1.0220,1)" font-size="16.00" font-weight="normal">H2</text>
<text transform="translate(282.89,815.60) scale(1.0761,1)" font-size="16.00" font-weight="normal">H3</text>
<text transform="translate(340.36,815.60) scale(1.2462,1)" font-size="16.00" font-weight="normal">L1</text><g transform="translate(340.36,815.60) scale(1.2462,1)" fill="#fff"><rect x="9.45" y="-1.44" width="3.36" height="2.24"/><rect x="14.30" y="-1.44" width="3.28" height="2.24"/></g>
<text transform="translate(398.47,815.60) scale(1.0897,1)" font-size="16.00" font-weight="normal">L2</text>
<text transform="translate(451.47,815.60) scale(1.0897,1)" font-size="16.00" font-weight="normal">L3</text>
<polygon points="170.20,730.45 170.96,732.35 173.01,732.49 171.44,733.80 171.93,735.79 170.20,734.70 168.47,735.79 168.96,733.80 167.39,732.49 169.44,732.35" fill="#000"/>
<polygon points="181.70,730.45 182.46,732.35 184.51,732.49 182.94,733.80 183.43,735.79 181.70,734.70 179.97,735.79 180.46,733.80 178.89,732.49 180.94,732.35" fill="#000"/>
<polygon points="228.65,734.35 229.41,736.25 231.46,736.39 229.89,737.70 230.38,739.69 228.65,738.60 226.92,739.69 227.41,737.70 225.84,736.39 227.89,736.25" fill="#000"/>
<polygon points="240.35,734.35 241.11,736.25 243.16,736.39 241.59,737.70 242.08,739.69 240.35,738.60 238.62,739.69 239.11,737.70 237.54,736.39 239.59,736.25" fill="#000"/>
<polygon points="286.60,738.25 287.36,740.15 289.41,740.29 287.84,741.60 288.33,743.59 286.60,742.50 284.87,743.59 285.36,741.60 283.79,740.29 285.84,740.15" fill="#000"/>
<polygon points="297.80,738.25 298.56,740.15 300.61,740.29 299.04,741.60 299.53,743.59 297.80,742.50 296.07,743.59 296.56,741.60 294.99,740.29 297.04,740.15" fill="#000"/>
<path d="M70.85,798.7 L69.00,510.5 H511.2 V798.7" fill="none" stroke="#111" stroke-width="1.4"/>
<path d="M70.15,798.7 H511.9" stroke="#111" stroke-width="1.6"/>
<text transform="translate(50.29,802.30) scale(1.0000,1)" font-size="10.80" font-weight="normal">50</text>
<text transform="translate(49.89,758.00) scale(1.0000,1)" font-size="10.80" font-weight="normal">60</text>
<text transform="translate(49.89,713.70) scale(1.0000,1)" font-size="10.80" font-weight="normal">70</text>
<text transform="translate(48.29,669.40) scale(1.0000,1)" font-size="10.80" font-weight="normal">80</text>
<text transform="translate(48.29,625.10) scale(1.0000,1)" font-size="10.80" font-weight="normal">90</text>
<text transform="translate(42.35,580.80) scale(1.0000,1)" font-size="10.80" font-weight="normal">100</text><g transform="translate(42.35,580.80) scale(1.0000,1)" fill="#fff"><rect x="0.38" y="-0.97" width="2.27" height="1.51"/><rect x="3.65" y="-0.97" width="2.21" height="1.51"/></g>
<text transform="translate(43.46,536.50) scale(1.0000,1)" font-size="10.80" font-weight="normal">110</text><g transform="translate(43.46,536.50) scale(1.0000,1)" fill="#fff"><rect x="0.38" y="-0.97" width="2.27" height="1.51"/><rect x="3.65" y="-0.97" width="2.21" height="1.51"/><rect x="5.58" y="-0.97" width="2.27" height="1.51"/><rect x="8.85" y="-0.97" width="2.21" height="1.51"/></g>
<path d="M66.85,798.70H70.85M66.57,754.40H70.57M66.28,710.10H70.28M66.00,665.80H70.00M65.71,621.50H69.71M65.43,577.20H69.43M65.14,532.90H69.14" stroke="#111" stroke-width="1.3"/>
<text transform="translate(40.60,717.34) rotate(-90) scale(1.1134,1)" font-size="15.17" font-weight="normal">Cell Number (%)</text>
</svg>
</body></html>
